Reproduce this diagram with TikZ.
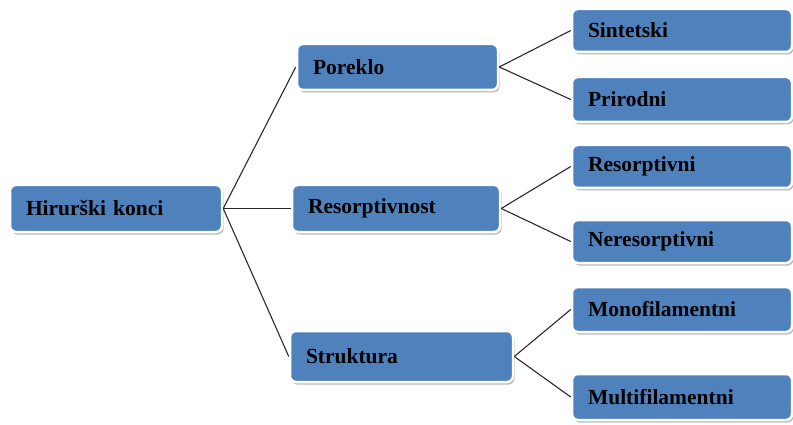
\documentclass[tikz,border=0pt]{standalone}
\usepackage{fontspec}
\setmainfont{Liberation Serif}
\usetikzlibrary{shadows}
\definecolor{boxblue}{HTML}{4F81BD}
\definecolor{linegray}{HTML}{2A2A2A}
\tikzset{
  box/.style={rounded corners=6pt, fill=boxblue, draw=white, line width=2.5pt,
    drop shadow={shadow xshift=1.5pt, shadow yshift=-2.5pt, fill=black!50, opacity=0.55},
    inner xsep=16pt, inner ysep=0pt, align=left,
    font=\fontsize{21.5}{24}\selectfont\bfseries, text=black},
  conn/.style={draw=linegray, line width=1.1pt}
}
\begin{document}
\begin{tikzpicture}[x=1pt,y=-1pt]
\useasboundingbox[fill=white] (0,0) rectangle (793,425);
% root
\node[box, text width=180, minimum height=47] (root) at (116,208.5) {Hirurški konci};
% level 1
\node[box, text width=169, minimum height=46] (por) at (397.5,67) {Poreklo};
\node[box, text width=176, minimum height=47] (res) at (396,208.5) {Resorptivnost};
\node[box, text width=191, minimum height=51] (str) at (401.5,356.5) {Struktura};
% level 2
\node[box, text width=188, minimum height=43] (sin) at (682,30.5) {Sintetski};
\node[box, text width=188, minimum height=45] (pri) at (682,99.5) {Prirodni};
\node[box, text width=188, minimum height=43] (rsv) at (682,166.5) {Resorptivni};
\node[box, text width=188, minimum height=43] (nrs) at (682,241.5) {Neresorptivni};
\node[box, text width=188, minimum height=45] (mon) at (682,309.5) {Monofilamentni};
\node[box, text width=188, minimum height=46] (mul) at (682,397) {Multifilamentni};
% connectors
\draw[conn] (root.east) -- (por.west);
\draw[conn] (root.east) -- (res.west);
\draw[conn] (root.east) -- (str.west);
\draw[conn] (por.east) -- (sin.west);
\draw[conn] (por.east) -- (pri.west);
\draw[conn] (res.east) -- (rsv.west);
\draw[conn] (res.east) -- (nrs.west);
\draw[conn] (str.east) -- (mon.west);
\draw[conn] (str.east) -- (mul.west);
\end{tikzpicture}
\end{document}
